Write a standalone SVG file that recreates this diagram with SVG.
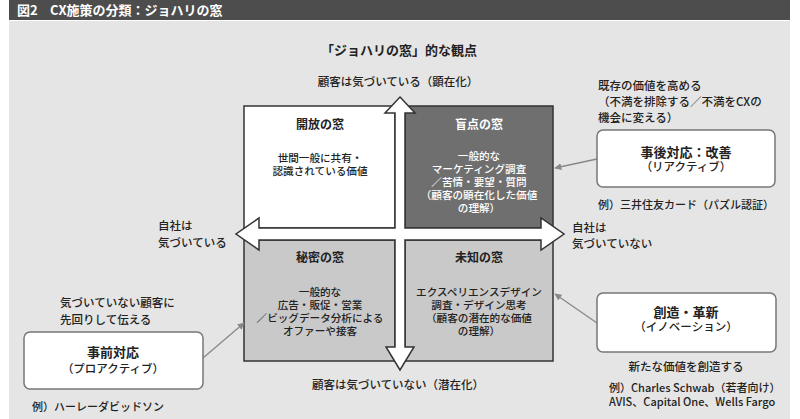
<svg xmlns="http://www.w3.org/2000/svg" width="800" height="419" viewBox="0 0 800 419">
<style>
text{font-family:"Noto Sans CJK JP","Noto Sans",sans-serif;fill:#222;font-weight:500;}
.t{font-size:11.5px;}
.e{font-size:11px;}
.b{font-size:10.6px;}
.h{font-size:12px;font-weight:bold;}
.m{text-anchor:middle;}
.w{fill:#fff;}
.q{stroke:#333;stroke-width:1.5;}
.rb{fill:#fff;stroke:#777;stroke-width:1.5;}
.c{stroke:#888;stroke-width:1.3;fill:none;marker-end:url(#ah);}
</style>
<defs>
<marker id="ah" viewBox="0 0 10 10" refX="9" refY="5" markerWidth="7" markerHeight="7" orient="auto" markerUnits="userSpaceOnUse">
<path d="M0,0 L10,5 L0,10 z" fill="#888"/>
</marker>
</defs>
<rect x="9" y="0" width="781" height="20" fill="#4d4d4d"/>
<rect x="9" y="21" width="781" height="398" fill="#e5e5e5"/>
<text x="17" y="15" class="w" style="font-size:13px;font-weight:bold">図2</text>
<text x="50" y="15" class="w" style="font-size:13px;font-weight:bold">CX施策の分類：ジョハリの窓</text>
<text x="399" y="55" class="m" style="font-size:13px;font-weight:bold">「ジョハリの窓」的な観点</text>
<text x="398" y="86" class="t m">顧客は気づいている（顕在化）</text>
<text x="398" y="389" class="t m">顧客は気づいていない（潜在化）</text>
<text x="158" y="230" class="t">自社は</text>
<text x="158" y="247" class="t">気づいている</text>
<text x="572" y="232" class="t">自社は</text>
<text x="572" y="248" class="t">気づいていない</text>
<g id="q-open">
<rect x="244" y="106" width="151" height="122" fill="#fff" class="q"/>
<text x="320" y="129" class="h m">開放の窓</text>
<text x="320" y="162" class="b m">世間一般に共有・</text>
<text x="320" y="175" class="b m">認識されている価値</text>
</g>
<g id="q-blind">
<rect x="405" y="106" width="148" height="122" fill="#6f6f6f" class="q"/>
<text x="479" y="129" class="h m w">盲点の窓</text>
<text x="479" y="160" class="b m w">一般的な</text>
<text x="479" y="173" class="b m w">マーケティング調査</text>
<text x="479" y="186" class="b m w">／苦情・要望・質問</text>
<text x="479" y="199" class="b m w">（顧客の顕在化した価値</text>
<text x="479" y="212" class="b m w">の理解）</text>
</g>
<g id="q-hidden">
<rect x="244" y="240" width="151" height="121" fill="#c9c9c9" class="q"/>
<text x="320" y="262" class="h m">秘密の窓</text>
<text x="320" y="296" class="b m">一般的な</text>
<text x="320" y="309" class="b m">広告・販促・営業</text>
<text x="320" y="322" class="b m">／ビッグデータ分析による</text>
<text x="320" y="335" class="b m">オファーや接客</text>
</g>
<g id="q-unknown">
<rect x="405" y="240" width="148" height="121" fill="#c9c9c9" class="q"/>
<text x="479" y="262" class="h m">未知の窓</text>
<text x="479" y="296" class="b m">エクスペリエンスデザイン</text>
<text x="479" y="309" class="b m">調査・デザイン思考</text>
<text x="479" y="322" class="b m">（顧客の潜在的な価値</text>
<text x="479" y="335" class="b m">の理解）</text>
</g>
<g id="cross-arrow">
<polygon points="400,97 415,113 405,113 405,228 541,228 541,218 564,234 541,250 541,240 405,240 405,347 414,347 400,370 386,347 395,347 395,240 259,240 259,250 236,234 259,218 259,228 395,228 395,113 385,113" fill="#fff" stroke="#333" stroke-width="1.5" stroke-linejoin="miter"/>
</g>
<g id="connectors">
<line x1="597" y1="159" x2="555" y2="168" class="c"/>
<line x1="203" y1="358" x2="244" y2="323" class="c"/>
<line x1="597" y1="323" x2="555" y2="294" class="c"/>
</g>
<g id="reactive">
<text x="598" y="90" class="t">既存の価値を高める</text>
<text x="598" y="106" class="t">（不満を排除する／不満をCXの</text>
<text x="598" y="122" class="t">機会に変える）</text>
<rect x="597" y="130" width="178" height="57" rx="6" class="rb"/>
<text x="686" y="157" class="m" style="font-size:13px;font-weight:bold">事後対応：改善</text>
<text x="686" y="171" class="t m">（リアクティブ）</text>
<text x="686" y="209" class="e m">例）三井住友カード（パズル認証）</text>
</g>
<g id="proactive">
<text x="60" y="307" class="t">気づいていない顧客に</text>
<text x="60" y="324" class="t">先回りして伝える</text>
<rect x="24" y="332" width="179" height="57" rx="6" class="rb"/>
<text x="113" y="357" class="m" style="font-size:13px;font-weight:bold">事前対応</text>
<text x="113" y="373" class="t m">（プロアクティブ）</text>
<text x="98" y="411" class="e m">例）ハーレーダビッドソン</text>
</g>
<g id="innovation">
<rect x="597" y="293" width="179" height="59" rx="6" class="rb"/>
<text x="686" y="317" class="m" style="font-size:13px;font-weight:bold">創造・革新</text>
<text x="686" y="331" class="t m">（イノベーション）</text>
<text x="686" y="371" class="t m">新たな価値を創造する</text>
<text x="609" y="392" class="e">例）Charles Schwab（若者向け）</text>
<text x="609" y="406" class="e">AVIS、Capital One、Wells Fargo</text>
</g>
</svg>
